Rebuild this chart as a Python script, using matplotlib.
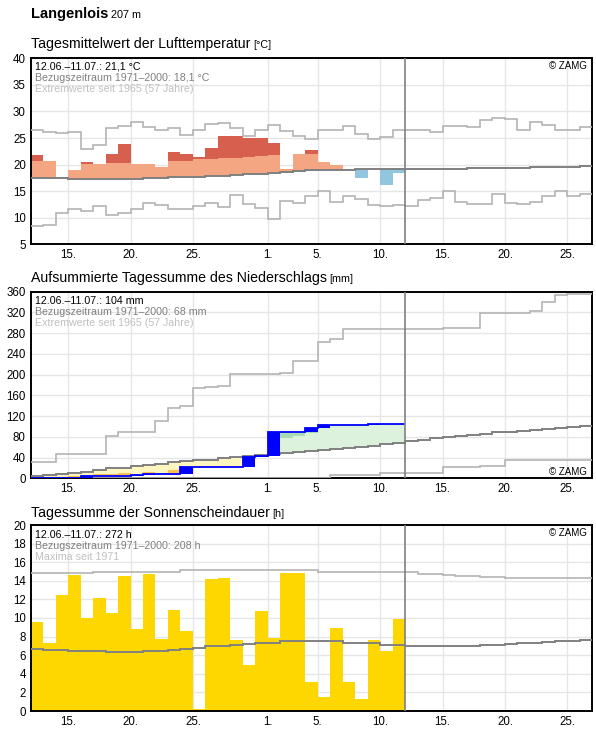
import numpy as np
import matplotlib
matplotlib.use('Agg')
import matplotlib.pyplot as plt

plt.rcParams['font.family'] = ['Liberation Sans', 'DejaVu Sans']

# x axis: day index 0 = 12.06., 19 = 01.07., 30 = 12.07. (today), 45 = 27.07.
n_days = 45
n_obs = 30
day_ticks = [3, 8, 13, 19, 23, 28, 33, 38, 43]
day_labels = ['15.', '20.', '25.', '1.', '5.', '10.', '15.', '20.', '25.']

# --- air temperature, daily mean [°C] ---
temp_obs = [21.8, 20.7, 17.5, 18.9, 20.5, 20.2, 22.0, 23.9, 20.2, 20.2,
            19.6, 22.4, 22.0, 21.4, 23.1, 25.4, 25.4, 25.0, 25.0, 24.1,
            19.2, 22.0, 22.8, 20.5, 19.9, 19.0, 17.5, 19.1, 16.2, 18.4]
temp_warm = [20.7, 20.8, 20.6, 20.3, 20.2, 20.3, 20.25, 20.25, 20.3, 20.3,
             20.4, 20.7, 20.7, 21.0, 21.1, 21.2, 21.2, 21.4, 21.6, 21.75,
             21.8, 22.0, 22.0, 22.1, 22.1, 22.2, 22.2, 22.2, 22.3, 22.3]
temp_clim = [17.5, 17.5, 17.5, 17.3, 17.3, 17.3, 17.3, 17.3, 17.3, 17.4,
             17.4, 17.6, 17.6, 17.6, 17.8, 17.9, 18.0, 18.2, 18.3, 18.5,
             18.6, 18.8, 18.9, 18.9, 18.9, 19.0, 19.1, 19.1, 19.1, 19.1,
             19.2, 19.2, 19.2, 19.2, 19.2, 19.3, 19.3, 19.3, 19.4, 19.4,
             19.5, 19.5, 19.5, 19.6, 19.7]
temp_max = [26.6, 26.2, 25.9, 26.2, 22.9, 23.7, 26.8, 27.2, 28.1, 27.0,
            26.45, 26.8, 25.5, 26.45, 27.6, 27.8, 26.8, 25.3, 26.45, 27.5,
            26.3, 25.3, 24.8, 26.6, 26.6, 27.2, 25.7, 24.9, 25.1, 26.45,
            26.45, 26.45, 26.1, 27.2, 27.2, 27.0, 28.3, 28.7, 28.5, 26.45,
            28.0, 27.4, 26.6, 26.45, 27.0]
temp_min = [8.45, 8.6, 10.8, 11.6, 11.35, 12.15, 10.45, 10.8, 11.6, 12.8,
            12.45, 11.6, 11.6, 12.3, 12.7, 12.0, 14.2, 12.5, 11.8, 9.7,
            13.2, 12.7, 14.0, 15.0, 12.9, 14.0, 13.5, 12.45, 12.3, 12.45,
            12.15, 13.3, 13.8, 15.0, 12.9, 12.5, 12.5, 14.4, 12.7, 12.5,
            13.0, 14.0, 15.0, 14.0, 14.4]

# --- precipitation, accumulated [mm] ---
prec_obs = [0, 0, 0, 0, 4.5, 4.5, 4.5, 4.5, 5.5, 7.5,
            9, 9, 21, 21, 21, 22.5, 22.5, 41, 42.5, 89,
            89, 89, 96.5, 102.5, 102.5, 102.5, 102.5, 104, 104, 104]
prec_dry = [1.2, 0, 1.2, 4.4, 4.4, 7.7, 7.7, 9.7, 5.0, 11.6,
            8.5, 16, 18, 19, 20, 21, 22, 23, 24, 26,
            28, 30, 32, 34, 36, 38, 40, 42, 44, 46]
prec_wet = [12, 16, 20, 24, 28, 32, 38, 40, 44, 48,
            52, 56, 58, 60, 62, 66, 70, 72, 74, 76,
            78, 81, 87, 100, 104, 107, 110, 113, 116, 119]
prec_clim = [3.5, 6, 8.5, 11, 13, 15.5, 20, 20.5, 23, 26,
             28.5, 31, 33, 34.5, 36, 39, 41.5, 42.5, 44.5, 47,
             49.5, 51, 53, 55, 57, 58.5, 60.5, 63, 65.5, 68,
             71, 74.5, 77, 79, 81, 83.5, 86, 88.5, 90, 92,
             93.5, 95.5, 97, 99.5, 101]
prec_max = [32.3, 32.3, 46.4, 46.4, 46.4, 47.7, 82, 90.2, 90.2, 90.2,
            111.5, 134.8, 139, 173.5, 176, 177.3, 200.5, 201.8, 201.8, 201.8,
            202.4, 225.7, 225.7, 262.5, 269.5, 287.6, 287.6, 287.6, 287.6, 287.6,
            287.6, 287.6, 287.6, 289.5, 289.5, 289.5, 318.6, 318.6, 318.6, 318.6,
            322.4, 339.8, 353.4, 356, 356]
prec_min = [0.5] * 24 + [7, 7, 7, 7, 10, 10, 10, 10, 10, 21,
                         21, 21, 24.5, 24.5, 34.5, 36, 36, 36, 36, 36, 36]

# --- sunshine duration, daily sum [h] ---
sun_obs = [9.6, 7.3, 12.5, 14.6, 10.0, 12.1, 10.5, 14.5, 8.8, 14.7,
           7.7, 10.9, 8.6, 0.2, 14.2, 14.3, 7.6, 4.9, 10.8, 7.8,
           14.8, 14.8, 3.15, 1.5, 8.9, 3.15, 1.3, 7.6, 6.4, 9.9]
sun_clim = [6.7, 6.6, 6.6, 6.45, 6.45, 6.45, 6.35, 6.35, 6.35, 6.45,
            6.45, 6.6, 6.7, 6.8, 7.0, 7.0, 7.15, 7.25, 7.35, 7.35,
            7.5, 7.5, 7.5, 7.5, 7.5, 7.35, 7.35, 7.35, 7.1, 7.1,
            7.0, 7.0, 7.0, 7.0, 7.0, 7.0, 7.1, 7.1, 7.2, 7.3,
            7.3, 7.4, 7.5, 7.5, 7.6]
sun_max = [14.85, 14.85, 14.85, 14.85, 14.85, 15.0, 15.0, 15.0, 15.0, 15.0,
           15.0, 15.0, 15.15, 15.15, 15.15, 15.15, 15.15, 15.15, 15.15, 15.15,
           15.15, 15.15, 15.15, 15.0, 15.0, 15.0, 15.0, 15.0, 14.9, 14.9,
           14.9, 14.75, 14.75, 14.65, 14.55, 14.55, 14.45, 14.45, 14.35, 14.35,
           14.35, 14.35, 14.35, 14.25, 14.25]

edges = np.arange(n_days + 1)
days = np.arange(n_obs)

W, H = 596, 729
fig = plt.figure(figsize=(W / 100, H / 100), dpi=100)


def px_axes(top, bottom, left=30.7, right=592.3):
    return fig.add_axes([left / W, 1 - bottom / H, (right - left) / W, (bottom - top) / H])


def style(ax, ylim, yticks):
    ax.set_xlim(0, n_days)
    ax.set_ylim(*ylim)
    ax.set_yticks(yticks)
    ax.set_xticks(day_ticks)
    ax.set_xticklabels(day_labels)
    ax.tick_params(length=0, labelsize=8.3, pad=3.5)
    ax.grid(color='#e6e6e6', lw=1)
    ax.set_axisbelow(True)
    for s in ax.spines.values():
        s.set_linewidth(1.4)
        s.set_color('black')
    ax.axvline(n_obs, color='#808080', lw=1.2, zorder=6)


def title(y, text, unit, size=10.2, weight='normal', usize=7.8):
    t = fig.text(30.7 / W, 1 - y / H, text, fontsize=size, fontweight=weight, va='baseline')
    r = fig.canvas.get_renderer()
    bb = t.get_window_extent(r)
    fig.text(bb.x1 / W + 3 / W, 1 - y / H, unit, fontsize=usize, va='baseline')


def info(ax, lines, dy):
    cols = ['black', '#808080', '#c0c0c0']
    for k, s in enumerate(lines):
        ax.annotate(s, xy=(0, 1), xycoords='axes fraction', xytext=(4, dy[k]),
                    textcoords='offset pixels', fontsize=7.7, color=cols[k],
                    va='baseline', ha='left', zorder=8)


def zamg(ax, top=True):
    if top:
        ax.annotate('© ZAMG', xy=(1, 1), xycoords='axes fraction', xytext=(-5, -11),
                    textcoords='offset pixels', fontsize=7.0, va='baseline', ha='right')
    else:
        ax.annotate('© ZAMG', xy=(1, 0), xycoords='axes fraction', xytext=(-5, 3),
                    textcoords='offset pixels', fontsize=7.0, va='baseline', ha='right')


title(18.3, 'Langenlois', '207 m', size=10.5, weight='bold', usize=7.8)
title(48.3, 'Tagesmittelwert der Lufttemperatur', '[°C]')
title(281.7, 'Aufsummierte Tagessumme des Niederschlags', '[mm]')
title(516.7, 'Tagessumme der Sonnenscheindauer', '[h]')

# ---------- temperature ----------
ax1 = px_axes(58.3, 244.3)
t_obs = np.array(temp_obs)
t_clim = np.array(temp_clim[:n_obs])
t_warm = np.array(temp_warm)
warm = t_obs > t_clim
top_light = np.minimum(t_obs, t_warm)
ax1.bar(days[warm], (top_light - t_clim)[warm], bottom=t_clim[warm], width=1,
        align='edge', color='#f4a582', lw=0, zorder=2)
hot = t_obs > t_warm
ax1.bar(days[hot], (t_obs - t_warm)[hot], bottom=t_warm[hot], width=1,
        align='edge', color='#d6604d', lw=0, zorder=2)
cold = t_obs < t_clim
ax1.bar(days[cold], (t_clim - t_obs)[cold], bottom=t_obs[cold], width=1,
        align='edge', color='#92c5de', lw=0, zorder=2)
ax1.stairs(temp_max, edges, baseline=None, color='#b4b4b4', lw=1.2, zorder=3)
ax1.stairs(temp_min, edges, baseline=None, color='#b4b4b4', lw=1.2, zorder=3)
ax1.stairs(temp_clim, edges, baseline=None, color='#808080', lw=1.4, zorder=4)
style(ax1, (5, 40), np.arange(5, 41, 5))
info(ax1, ['12.06.–11.07.: 21,1 °C', 'Bezugszeitraum 1971–2000: 18,1 °C',
           'Extremwerte seit 1965 (57 Jahre)'], [-11, -22.5, -34])
zamg(ax1)

# ---------- precipitation ----------
ax2 = px_axes(291.7, 478.3)
p_obs = np.array(prec_obs, dtype=float)
p_clim = np.array(prec_clim[:n_obs])
p_dry = np.array(prec_dry, dtype=float)
p_wet = np.array(prec_wet, dtype=float)
p_prev = np.concatenate([[0], p_obs[:-1]])
below = p_obs < p_clim
ax2.bar(days[below], (p_clim - p_obs)[below], bottom=p_obs[below], width=1,
        align='edge', color='#fff5c0', lw=0, zorder=2)
dry = p_obs < p_dry
ax2.bar(days[dry], (np.minimum(p_dry, p_clim) - p_obs)[dry], bottom=p_obs[dry],
        width=1, align='edge', color='#fdbf50', lw=0, zorder=2)
above = p_obs > p_clim
ax2.bar(days[above], (p_obs - p_clim)[above], bottom=p_clim[above], width=1,
        align='edge', color='#ddf2dd', lw=0, zorder=2)
wet = p_obs > p_wet
ax2.bar(days[wet], (p_obs - p_wet)[wet], bottom=p_wet[wet], width=1,
        align='edge', color='#a8dcb6', lw=0, zorder=2)
rain = p_obs > p_prev
ax2.bar(days[rain], (p_obs - p_prev)[rain], bottom=p_prev[rain], width=1,
        align='edge', color='#0000ff', lw=0, zorder=5)
ax2.stairs(prec_max, edges, baseline=None, color='#b4b4b4', lw=1.2, zorder=3)
ax2.stairs(prec_min, edges, baseline=None, color='#b4b4b4', lw=1.2, zorder=3)
ax2.stairs(prec_clim, edges, baseline=None, color='#808080', lw=1.4, zorder=4)
ax2.stairs(prec_obs, np.arange(n_obs + 1), baseline=None, color='#0000ff', lw=1.3, zorder=5)
style(ax2, (0, 360), np.arange(0, 361, 40))
info(ax2, ['12.06.–11.07.: 104 mm', 'Bezugszeitraum 1971–2000: 68 mm',
           'Extremwerte seit 1965 (57 Jahre)'], [-12.3, -23.3, -34.3])
zamg(ax2, top=False)

# ---------- sunshine ----------
ax3 = px_axes(525, 711)
ax3.bar(days, sun_obs, width=1, align='edge', color='#ffd700', lw=0, zorder=2)
ax3.stairs(sun_max, edges, baseline=None, color='#b4b4b4', lw=1.2, zorder=3)
ax3.stairs(sun_clim, edges, baseline=None, color='#808080', lw=1.4, zorder=4)
style(ax3, (0, 20), np.arange(0, 21, 2))
info(ax3, ['12.06.–11.07.: 272 h', 'Bezugszeitraum 1971–2000: 208 h',
           'Maxima seit 1971'], [-12.7, -23.7, -35])
zamg(ax3)

fig.savefig('out.png', dpi=100)
